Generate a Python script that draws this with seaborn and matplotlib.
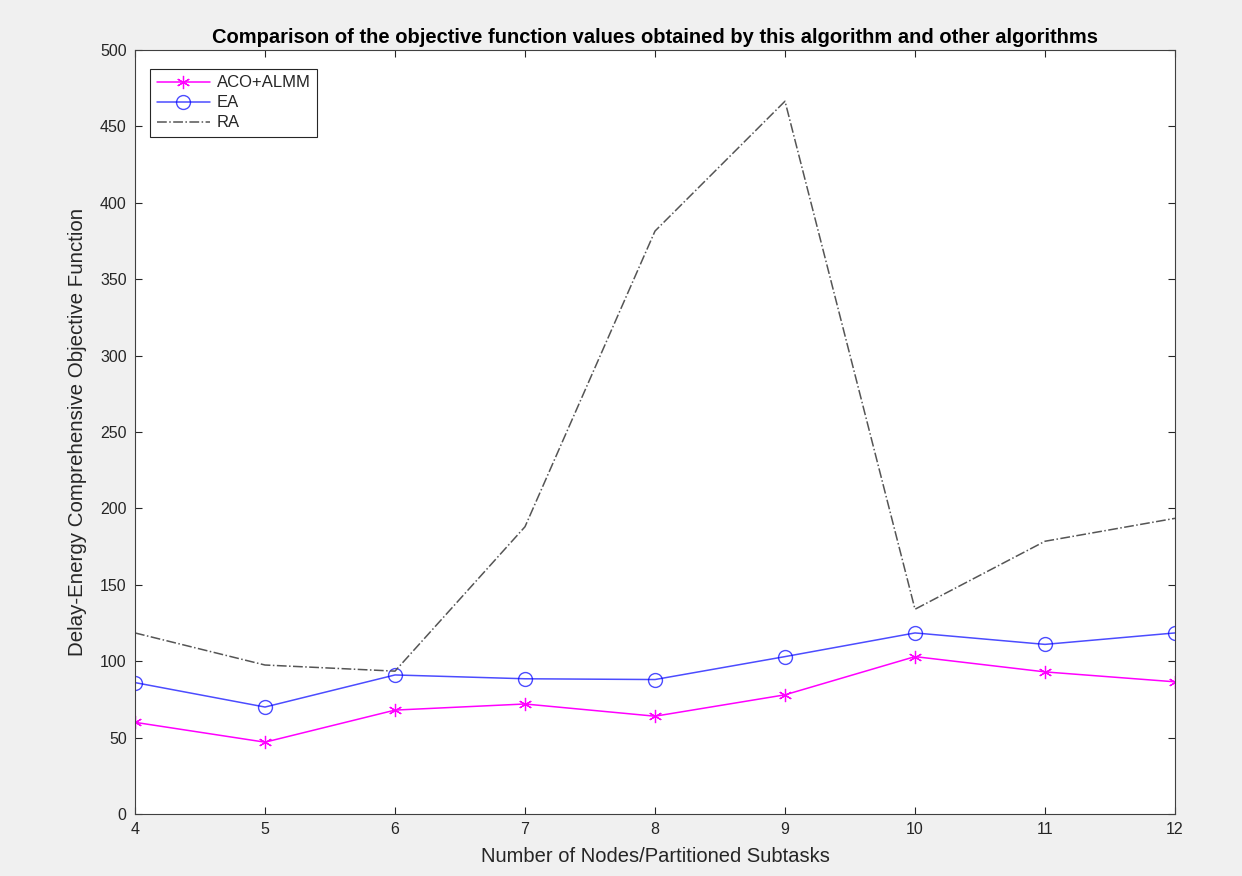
import matplotlib
matplotlib.use("Agg")
import matplotlib.pyplot as plt
import seaborn as sns
import pandas as pd

nodes = [4, 5, 6, 7, 8, 9, 10, 11, 12]
aco_almm = [60, 47, 68, 72, 64, 78, 103, 93, 86.5]
ea = [86, 70, 91, 88.5, 88, 103, 118.5, 111, 118.5]
ra = [118.5, 97.5, 93.5, 188, 381.5, 466.5, 134, 178.5, 193.5]

sns.set_theme(style="white")
plt.rcParams['font.family'] = ['Liberation Sans', 'DejaVu Sans']

fig = plt.figure(figsize=(12.42, 8.76), dpi=100, facecolor='#f0f0f0')
ax = fig.add_axes([135/1242, 62/876, 1040/1242, 764/876])
ax.set_facecolor('white')

df = pd.DataFrame({"x": nodes, "aco": aco_almm, "ea": ea, "ra": ra})
sns.lineplot(data=df, x="x", y="aco", ax=ax, color='#ff00ff', marker=(6, 2, 0),
             markersize=9.5, markeredgewidth=0.9, markeredgecolor='#ff00ff',
             linewidth=1.1, label='ACO+ALMM')
sns.lineplot(data=df, x="x", y="ea", ax=ax, color='#0000ff', marker='o',
             markersize=10, markerfacecolor='none', markeredgecolor='#0000ff',
             markeredgewidth=1.0, linewidth=1.1, alpha=0.7, label='EA')
sns.lineplot(data=df, x="x", y="ra", ax=ax, color='#555555', linestyle='-.',
             linewidth=1.1, label='RA')

ax.set_xlim(4, 12)
ax.set_ylim(0, 500)
ax.set_xticks(nodes)
ax.set_yticks(range(0, 501, 50))
ax.tick_params(direction='in', length=5, width=0.8, colors='#262626',
               labelsize=11.5, top=True, right=True, bottom=True, left=True,
               labeltop=False, labelright=False, pad=6)
for s in ax.spines.values():
    s.set_color('#404040')
    s.set_linewidth(0.8)

ax.set_xlabel('Number of Nodes/Partitioned Subtasks', fontsize=14.5, color='#262626', labelpad=7)
ax.set_ylabel('Delay-Energy Comprehensive Objective Function', fontsize=14.8, color='#262626', labelpad=9)
ax.set_title('Comparison of the objective function values obtained by this algorithm and other algorithms',
             fontsize=14.5, fontweight='bold', color='black', pad=5)

leg = ax.legend(loc='upper left', bbox_to_anchor=(0.0, 0.995), fontsize=12, frameon=True,
                fancybox=False, edgecolor='#262626', framealpha=1, borderpad=0.4,
                handlelength=3.2, labelspacing=0.3, borderaxespad=0.9, handletextpad=0.4)
leg.get_frame().set_linewidth(0.8)

fig.savefig('out.png', dpi=100, facecolor=fig.get_facecolor())
